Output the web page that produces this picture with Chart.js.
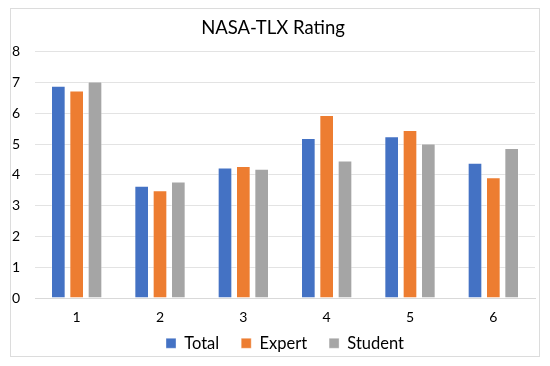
<!DOCTYPE html>
<html><head><meta charset="utf-8">
<script src="https://cdn.jsdelivr.net/npm/chart.js@4"></script>
<style>
body{margin:0;background:#fff;}
#box{position:absolute;left:10px;top:8px;width:528px;height:347px;border:1px solid #dcdcdc;background:#fff;}
</style></head><body>
<div id="box"><canvas id="c" width="528" height="347"></canvas></div>
<script>
const categories = ['1','2','3','4','5','6'];
const totalValues = [6.89, 3.65, 4.24, 5.20, 5.25, 4.39];
const expertValues = [6.74, 3.50, 4.29, 5.94, 5.46, 3.92];
const studentValues = [7.03, 3.78, 4.20, 4.47, 5.02, 4.87];
const seriesNames = ['Total', 'Expert', 'Student'];
const colors = ['#4472C4', '#ED7D31', '#A5A5A5'];
const FONT = "Lato, 'Open Sans', sans-serif";

// keep x tick labels unclipped although the x axis box is kept short
const unclipX = {
  id: 'unclipX',
  afterLayout(chart) { const s = chart.scales.x; s.bottom = s.top + 40; }
};

new Chart(document.getElementById('c'), {
  type: 'bar',
  plugins: [unclipX],
  data: {
    labels: categories,
    datasets: [totalValues, expertValues, studentValues].map((d, i) => ({
      label: seriesNames[i], data: d, backgroundColor: colors[i],
      borderColor: 'rgba(255,255,255,0.35)', borderWidth: 1,
      categoryPercentage: 0.66, barPercentage: 0.80
    }))
  },
  options: {
    responsive: false, animation: false,
    layout: { padding: { left: 0, right: 4, top: 7.5, bottom: -5.5 } },
    plugins: {
      title: { display: true, text: 'NASA-TLX Rating', color: '#000',
        font: { family: FONT, size: 18.5, weight: 'normal' }, padding: { top: 0, bottom: 13 } },
      legend: { position: 'bottom', fullSize: false,
        labels: { boxWidth: 10, boxHeight: 10, color: '#000', padding: 22,
          font: { family: FONT, size: 16.5 } } },
      tooltip: { enabled: false }
    },
    scales: {
      x: { grid: { display: false, drawTicks: false }, border: { color: '#d9d9d9' },
        afterFit: s => { s.height = 15; },
        ticks: { color: '#000', font: { family: FONT, size: 14 }, padding: 11 } },
      y: { min: 0, max: 8, grid: { color: '#e3e3e3', drawTicks: false }, border: { display: false },
        afterFit: s => { s.width = 24; },
        ticks: { stepSize: 1, color: '#000', font: { family: FONT, size: 14 }, padding: 15 } }
    }
  }
});
</script></body></html>
